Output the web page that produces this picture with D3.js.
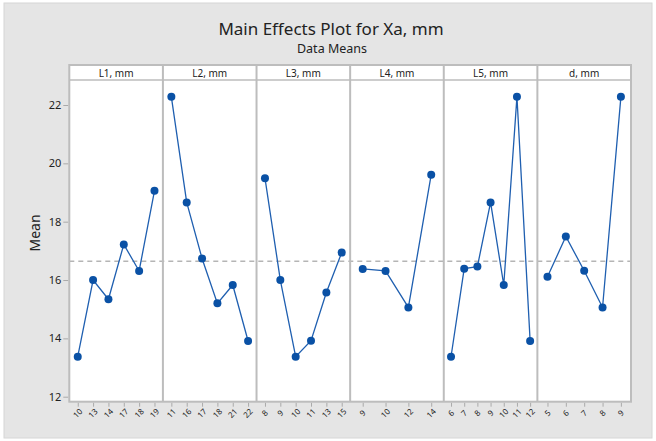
<!DOCTYPE html>
<html>
<head>
<meta charset="utf-8">
<script src="https://cdn.jsdelivr.net/npm/d3@7"></script>
<style>
    body { margin: 0; background: #fff; }
    .content { width: 656px; height: 441px; }
    text { font-family: 'Noto Sans', 'Open Sans', sans-serif; fill: #222; }
</style>
</head>
<body>
<div class="content"></div>
<script>
// panels (factors) and their levels
let factors = ['L1, mm', 'L2, mm', 'L3, mm', 'L4, mm', 'L5, mm', 'd, mm'];
let levelsL1 = ['10', '13', '14', '17', '18', '19'];
let levelsL2 = ['11', '16', '17', '18', '21', '22'];
let levelsL3 = ['8', '9', '10', '11', '13', '15'];
let levelsL4 = ['9', '10', '12', '14'];
let levelsL5 = ['6', '7', '8', '9', '10', '11', '12'];
let levelsD = ['5', '6', '7', '8', '9'];

// means
let meansL1 = [13.37, 16.0, 15.34, 17.22, 16.31, 19.06];
let meansL2 = [22.28, 18.66, 16.74, 15.2, 15.83, 13.91];
let meansL3 = [19.49, 16.0, 13.37, 13.92, 15.57, 16.94];
let meansL4 = [16.38, 16.31, 15.06, 19.61];
let meansL5 = [13.37, 16.39, 16.46, 18.66, 15.83, 22.28, 13.91];
let meansD = [16.11, 17.49, 16.32, 15.06, 22.28];

let grandMean = 16.64;
let yTicks = [12, 14, 16, 18, 20, 22];

(function () {
    let levels = [levelsL1, levelsL2, levelsL3, levelsL4, levelsL5, levelsD];
    let means = [meansL1, meansL2, meansL3, meansL4, meansL5, meansD];

    let W = 656, H = 441;
    let frame = {left: 69.3, top: 65, right: 631, bottom: 401.7};
    let headerH = 15;
    let plotTop = frame.top + headerH;
    let panelW = (frame.right - frame.left) / factors.length;

    let svg = d3.select('.content').append('svg')
        .attr('width', W)
        .attr('height', H);

    // grey background
    svg.append('rect')
        .attr('x', 4).attr('y', 3)
        .attr('width', 648).attr('height', 435)
        .attr('fill', '#e5e5e5')
        .attr('stroke', '#d6d6d6');

    // titles
    svg.append('text')
        .attr('x', 331).attr('y', 34.5)
        .attr('text-anchor', 'middle')
        .style('font-size', '17px')
        .text('Main Effects Plot for Xa, mm');
    svg.append('text')
        .attr('x', 332).attr('y', 53)
        .attr('text-anchor', 'middle')
        .style('font-size', '12.5px')
        .text('Data Means');

    let yScale = d3.scaleLinear()
        .domain([12, 22])
        .range([396.7, 105]);

    // white plot frame
    svg.append('rect')
        .attr('x', frame.left).attr('y', frame.top)
        .attr('width', frame.right - frame.left)
        .attr('height', frame.bottom - frame.top)
        .attr('fill', '#fff');

    // y axis
    let yAxis = d3.axisLeft(yScale)
        .tickValues(yTicks)
        .tickSizeInner(5)
        .tickSizeOuter(0)
        .tickPadding(2);
    let gY = svg.append('g')
        .attr('transform', 'translate(' + (frame.left - 1) + ',0)')
        .call(yAxis);
    gY.select('.domain').remove();
    gY.selectAll('line').attr('stroke', '#aaa');
    gY.selectAll('text').style('font-size', '11px').style('font-family', "'Noto Sans', sans-serif").attr('fill', '#222');

    svg.append('text')
        .attr('transform', 'translate(40,' + 233 + ') rotate(-90)')
        .attr('text-anchor', 'middle')
        .style('font-size', '14px')
        .text('Mean');

    // grand mean reference line
    svg.append('line')
        .attr('x1', frame.left).attr('x2', frame.right)
        .attr('y1', yScale(grandMean)).attr('y2', yScale(grandMean))
        .attr('stroke', '#b5b5b5')
        .attr('stroke-width', 1.5)
        .attr('stroke-dasharray', '5,4');

    factors.forEach(function (name, i) {
        let x0 = frame.left + i * panelW;
        let xScale = d3.scalePoint()
            .domain(levels[i])
            .range([x0, x0 + panelW])
            .padding(0.55);

        let data = levels[i].map(function (lv, j) {
            return {level: lv, mean: means[i][j]};
        });

        // header label
        svg.append('text')
            .attr('x', x0 + panelW / 2)
            .attr('y', frame.top + 12)
            .attr('text-anchor', 'middle')
            .style('font-size', '10px')
            .text(name);

        // x axis
        let xAxis = d3.axisBottom(xScale)
            .tickSizeInner(4)
            .tickSizeOuter(0)
            .tickPadding(3);
        let gX = svg.append('g')
            .attr('transform', 'translate(0,' + (frame.bottom + 1) + ')')
            .call(xAxis);
        gX.select('.domain').remove();
        gX.selectAll('line').attr('stroke', '#aaa');
        gX.selectAll('text')
            .style('font-size', '8px')
            .style('font-family', "'Noto Sans', sans-serif")
            .attr('fill', '#222')
            .attr('text-anchor', 'middle')
            .attr('dy', null)
            .attr('y', 0)
            .attr('transform', 'translate(0,11) rotate(-45)')
            .attr('dominant-baseline', 'middle');

        let line = d3.line()
            .x(function (d) { return xScale(d.level); })
            .y(function (d) { return yScale(d.mean); });

        svg.append('path')
            .datum(data)
            .attr('fill', 'none')
            .attr('stroke', '#1f5fb0')
            .attr('stroke-width', 1.3)
            .attr('d', line);

        svg.append('g')
            .selectAll('circle')
            .data(data)
            .enter()
            .append('circle')
            .attr('r', 4)
            .attr('fill', '#0a51a5')
            .attr('cx', function (d) { return xScale(d.level); })
            .attr('cy', function (d) { return yScale(d.mean); });

        // panel divider
        if (i > 0) {
            svg.append('line')
                .attr('x1', x0).attr('x2', x0)
                .attr('y1', frame.top).attr('y2', frame.bottom)
                .attr('stroke', '#bdbdbd')
                .attr('stroke-width', 2);
        }
    });

    // header bottom line and outer frame
    svg.append('line')
        .attr('x1', frame.left).attr('x2', frame.right)
        .attr('y1', plotTop).attr('y2', plotTop)
        .attr('stroke', '#bdbdbd')
        .attr('stroke-width', 1.5);
    svg.append('rect')
        .attr('x', frame.left).attr('y', frame.top)
        .attr('width', frame.right - frame.left)
        .attr('height', frame.bottom - frame.top)
        .attr('fill', 'none')
        .attr('stroke', '#bdbdbd')
        .attr('stroke-width', 2);
})();
</script>
</body>
</html>
